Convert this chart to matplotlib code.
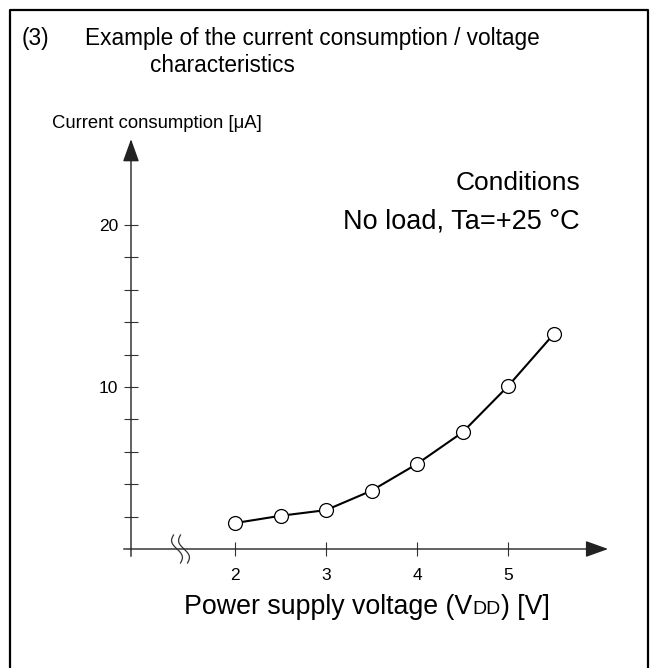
import numpy as np
import matplotlib
matplotlib.use("Agg")
import matplotlib.pyplot as plt
from matplotlib.lines import Line2D
from matplotlib.offsetbox import TextArea, HPacker, AnnotationBbox

plt.rcParams['font.family'] = ['Liberation Sans', 'DejaVu Sans']

# Data
voltage = [2.0, 2.5, 3.0, 3.5, 4.0, 4.5, 5.0, 5.5]
current = [1.6, 2.05, 2.4, 3.6, 5.25, 7.2, 10.05, 13.25]
x_ticks = [2, 3, 4, 5]
y_major = [10, 20]
y_minor = [2, 4, 6, 8, 12, 14, 16, 18]

W, H = 652, 668
fig = plt.figure(figsize=(W / 100, H / 100), dpi=100)

# axes placement in pixels
px_y0 = 131      # y axis x position
px_x2 = 235      # x=2 position
pxu_x = 91.0     # pixels per volt
px_base = 549    # y=0 pixel row
pxu_y = 16.2     # pixels per uA
xmin = 2 - (px_x2 - px_y0) / pxu_x
xmax = 6.2
ymin, ymax = 0, 25.5
left = px_y0 / W
width = (xmax - xmin) * pxu_x / W
bottom = (H - px_base) / H
height = (ymax - ymin) * pxu_y / H
ax = fig.add_axes([left, bottom, width, height])
ax.set_xlim(xmin, xmax)
ax.set_ylim(ymin, ymax)
for s in ax.spines.values():
    s.set_visible(False)
ax.patch.set_visible(False)

ax.set_xticks(x_ticks)
ax.set_xticklabels([str(v) for v in x_ticks])
ax.set_yticks(y_major)
ax.set_yticklabels([str(v) for v in y_major])
ax.set_yticks(y_minor, minor=True)
ax.tick_params(axis='both', which='both', direction='inout', length=10,
               width=0.8, color='#333333', labelsize=12.5, pad=4)
ax.tick_params(axis='x', pad=9)

# axis lines with arrows
arrow = dict(arrowstyle='-|>,head_length=1.0,head_width=0.36', mutation_scale=14,
             lw=1.0, color='#222222', shrinkA=0, shrinkB=0)
ax.annotate('', xy=(xmin, 25.3), xytext=(xmin, -0.45), arrowprops=arrow,
            annotation_clip=False)
ax.annotate('', xy=(6.1, 0), xytext=(xmin - 0.08, 0), arrowprops=arrow,
            annotation_clip=False)

# axis break symbol
t = np.linspace(-1, 1, 40)
for xc_px in (177, 184):
    dx = (3.5 * t + 3.5 * np.sin(np.pi * t)) / pxu_x
    dy = -14 * t / pxu_y
    xc = 2 - (px_x2 - xc_px) / pxu_x
    ax.plot(xc + dx, dy, color='#333333', lw=0.9, clip_on=False)

# data
ax.plot(voltage, current, color='black', lw=1.5, marker='o', markersize=10,
        markerfacecolor='white', markeredgecolor='black', markeredgewidth=0.9,
        clip_on=False, zorder=3)

# texts
fig.text(22 / W, 1 - 38 / H, '(3)', fontsize=16.3, va='center', ha='left')
fig.text(85 / W, 1 - 38 / H, 'Example of the current consumption / voltage',
         fontsize=16.3, va='center', ha='left')
fig.text(150 / W, 1 - 65 / H, 'characteristics', fontsize=16.3, va='center', ha='left')
fig.text(52 / W, 1 - 123 / H, 'Current consumption [\u03bcA]', fontsize=13.3,
         va='center', ha='left')
fig.text(580 / W, 1 - 183 / H, 'Conditions', fontsize=19, va='center', ha='right')
fig.text(580 / W, 1 - 222 / H, 'No load, Ta=+25 \u00b0C', fontsize=19.5, va='center', ha='right')

parts = [TextArea('Power supply voltage (V', textprops=dict(fontsize=19.3)),
         TextArea('DD', textprops=dict(fontsize=14)),
         TextArea(') [V]', textprops=dict(fontsize=19.3))]
pack = HPacker(children=parts, pad=0, sep=0, align='baseline')
ab = AnnotationBbox(pack, (367 / W, 1 - 607 / H), xycoords='figure fraction',
                    frameon=False, box_alignment=(0.5, 0.5))
fig.add_artist(ab)

# figure border (open at bottom)
bx0, bx1, by1 = 9.5 / W, 648 / W, 1 - 9.5 / H
fig.add_artist(Line2D([bx0, bx0, bx1, bx1], [0, by1, by1, 0],
                      transform=fig.transFigure, color='black', lw=1.6))

fig.savefig('out.png', dpi=100)
